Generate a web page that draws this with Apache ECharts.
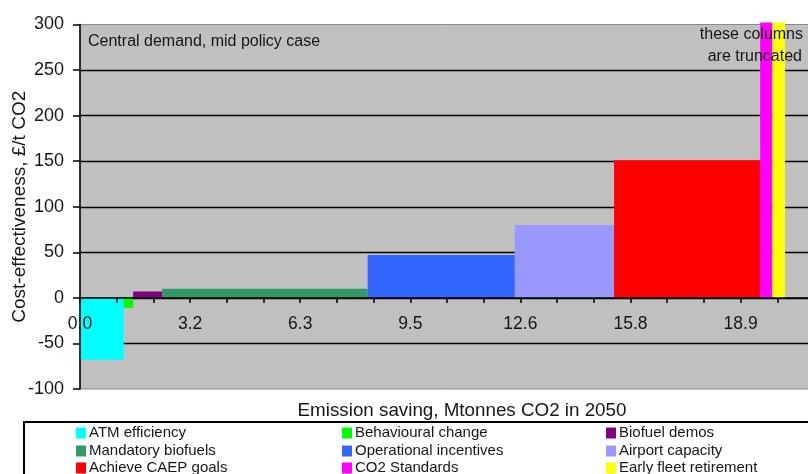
<!DOCTYPE html>
<html>
<head>
<meta charset="utf-8">
<script src="https://cdn.jsdelivr.net/npm/echarts@6/dist/echarts.min.js"></script>
<style>
  html, body { margin: 0; padding: 0; background: #fff; }
  #chart { width: 808px; height: 474px; }
</style>
</head>
<body>
<div id="chart"></div>
<script>
// Aviation abatement measures, ordered by cost-effectiveness
const measures = [
  'ATM efficiency', 'Behavioural change', 'Biofuel demos',
  'Mandatory biofuels', 'Operational incentives', 'Airport capacity',
  'Achieve CAEP goals', 'CO2 Standards', 'Early fleet retirement'
];
// Emission saving of each measure, Mt CO2 in 2050 (column widths)
const savings = [1.25, 0.27, 0.83, 5.88, 4.21, 2.84, 4.18, 0.35, 0.36];
// Cost-effectiveness, £/t CO2 (column heights); the last two exceed the axis
const costs = [-68, -11, 7, 10, 47, 80, 151, 450, 450];
const colors = ['#00FFFF', '#00FF00', '#800080', '#339966', '#3366FF',
                '#9999FF', '#FF0000', '#FF00FF', '#FFFF00'];
// Horizontal axis: minor ticks every 1.05 Mt, labelled every third tick
const xTickLabels = ['0.0', '3.2', '6.3', '9.5', '12.6', '15.8', '18.9'];
const xStep = 1.05;
const xMax = 21;
const yMin = -100, yMax = 300, yStep = 50;

const FONT = '"Liberation Sans", Arial, sans-serif';
const TXT = '#161616';

const W = 808, H = 474;
const GRID = { left: 80, top: 24.5, right: -6, bottom: 85 };
// distance of the zero line above the bottom of the plot
const plotH = H - GRID.top - GRID.bottom;
const zeroLift = (0 - yMin) / (yMax - yMin) * plotH;

// Cumulative start/end of each column along the savings axis
let acc = 0;
const spans = savings.map(w => { const s = acc; acc += w; return [s, acc]; });

const series = measures.map((name, i) => ({
  name,
  type: 'custom',
  xAxisIndex: 0,
  yAxisIndex: 0,
  z: 2,
  itemStyle: { color: colors[i] },
  data: [[spans[i][0], spans[i][1], costs[i]]],
  renderItem: function (params, api) {
    const x0 = api.value(0), x1 = api.value(1), v = api.value(2);
    const truncated = v > yMax;
    const p0 = api.coord([x0, 0]);
    const p1 = api.coord([x1, truncated ? yMax : v]);
    let top = Math.min(p0[1], p1[1]);
    const bottom = Math.max(p0[1], p1[1]);
    if (truncated) top -= 2;
    return {
      type: 'rect',
      shape: { x: p0[0], y: top, width: p1[0] - p0[0], height: bottom - top },
      style: { fill: api.visual('color') }
    };
  }
}));

// Legend laid out as a 3 x 3 table, one legend component per cell
const legendCols = [76, 342, 606];
const legendRows = [425.5, 443.5, 460.5];
const legends = measures.map((name, i) => ({
  orient: 'horizontal',
  left: legendCols[i % 3], top: legendRows[Math.floor(i / 3)],
  data: [name], icon: 'rect', itemWidth: 10, itemHeight: 11, itemGap: 0,
  selectedMode: false, padding: 0,
  textStyle: { fontFamily: FONT, fontSize: 15, color: TXT, padding: [0, 0, 0, -2] }
}));

const xCommon = { type: 'value', min: 0, max: xMax, interval: xStep, splitLine: { show: false } };

const chart = echarts.init(document.getElementById('chart'), null, { renderer: 'canvas' });
chart.setOption({
  backgroundColor: '#ffffff',
  animation: false,
  grid: Object.assign({}, GRID, {
    outerBoundsMode: 'none', containLabel: false,
    show: true, backgroundColor: '#C0C0C0', borderColor: '#8a8a8a', borderWidth: 1
  }),
  xAxis: [
    Object.assign({}, xCommon, {
      // zero line with its ticks
      z: 5,
      axisLine: { show: true, onZero: true, onZeroAxisIndex: 0,
                  lineStyle: { color: '#000', width: 1.5 } },
      axisTick: { show: true, length: 5, lineStyle: { color: '#000', width: 1.5 } },
      axisLabel: { show: false }
    }),
    Object.assign({}, xCommon, {
      // tick labels hung just under the zero line
      z: 5, position: 'bottom', offset: -zeroLift,
      axisLine: { show: false, onZero: false }, axisTick: { show: false },
      axisLabel: {
        margin: 17, fontFamily: FONT, fontSize: 17.5, color: TXT,
        formatter: function (v) {
          const k = Math.round(v / xStep);
          return k % 3 === 0 && xTickLabels[k / 3] !== undefined ? xTickLabels[k / 3] : '';
        }
      }
    })
  ],
  yAxis: [
    {
      // gridlines only, kept beneath the columns
      type: 'value', min: yMin, max: yMax, interval: yStep, z: 0,
      axisLine: { show: false }, axisTick: { show: false }, axisLabel: { show: false },
      splitLine: { show: true, showMinLine: false, showMaxLine: false,
                   lineStyle: { color: '#000', width: 1.4 } }
    },
    {
      type: 'value', min: yMin, max: yMax, interval: yStep, z: 5, position: 'left',
      name: 'Cost-effectiveness, £/t CO2', nameLocation: 'middle', nameRotate: 90,
      nameGap: 51, nameMoveOverlap: false,
      nameTextStyle: { fontFamily: FONT, fontSize: 19, color: TXT },
      axisLine: { show: true, onZero: false, lineStyle: { color: '#000', width: 1.5 } },
      axisTick: { show: true, length: 7, lineStyle: { color: '#000', width: 1.5 } },
      axisLabel: { margin: 16, fontFamily: FONT, fontSize: 18, color: TXT },
      splitLine: { show: false }
    }
  ],
  legend: legends,
  graphic: [
    {
      type: 'rect', z: 1,
      shape: { x: 24, y: 422, width: 800, height: 70 },
      style: { fill: 'none', stroke: '#000', lineWidth: 2 }
    },
    {
      type: 'text', z: 10,
      style: { x: 462, y: 411, text: 'Emission saving, Mtonnes CO2 in 2050',
               textAlign: 'center', textVerticalAlign: 'middle',
               font: '18.8px ' + FONT, fill: TXT }
    },
    {
      type: 'text', z: 10,
      style: { x: 88, y: 42, text: 'Central demand, mid policy case',
               textAlign: 'left', textVerticalAlign: 'middle',
               font: '16px ' + FONT, fill: TXT }
    },
    {
      type: 'text', z: 10,
      style: { x: 803, y: 35, text: 'these columns',
               textAlign: 'right', textVerticalAlign: 'middle',
               font: '16px ' + FONT, fill: TXT }
    },
    {
      type: 'text', z: 10,
      style: { x: 802, y: 57, text: 'are truncated',
               textAlign: 'right', textVerticalAlign: 'middle',
               font: '16px ' + FONT, fill: TXT }
    }
  ],
  series
});
</script>
</body>
</html>
